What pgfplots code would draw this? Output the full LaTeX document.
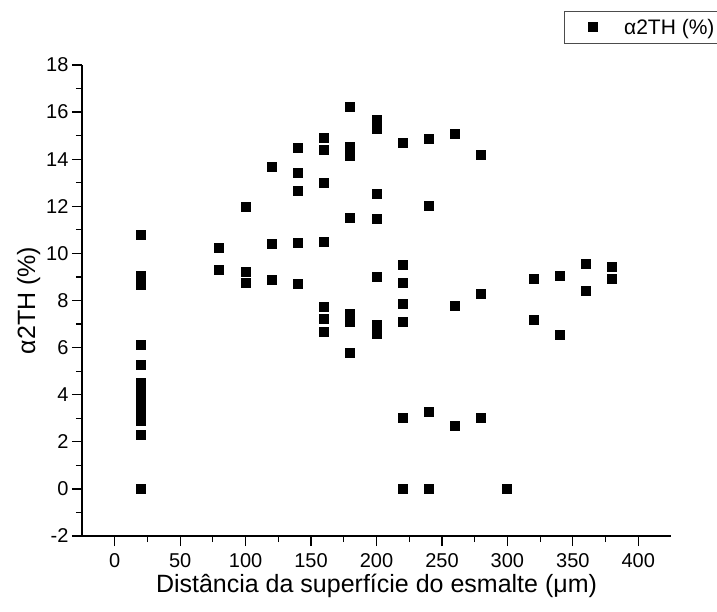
\documentclass[border=0pt]{standalone}
\usepackage{fontspec}
\setmainfont{Liberation Sans}
\usepackage{pgfplots}
\pgfplotsset{compat=1.18}

% alpha2TH (%) against distance from the enamel surface (um)
\pgfplotstableread{
x y
20 10.77
20 9.02
20 8.65
20 6.11
20 5.25
20 4.50
20 4.30
20 4.10
20 3.90
20 3.70
20 3.50
20 3.30
20 3.10
20 2.90
20 2.30
20 0.00
80 10.22
80 9.29
100 11.96
100 9.22
100 8.73
120 13.65
120 10.39
120 8.87
140 14.48
140 13.41
140 12.64
140 10.43
140 8.69
160 14.89
160 14.39
160 13.00
160 10.47
160 7.74
160 7.20
160 6.65
180 16.20
180 14.53
180 14.15
180 11.52
180 7.43
180 7.07
180 5.78
200 15.66
200 15.27
200 12.54
200 11.46
200 9.01
200 6.96
200 6.58
220 14.70
220 9.51
220 8.73
220 7.84
220 7.07
220 3.03
220 0.00
240 14.84
240 12.01
240 3.25
240 0.00
260 15.06
260 7.75
260 2.69
280 14.19
280 8.28
280 3.00
300 0.00
320 8.91
320 7.17
340 9.05
340 6.54
360 9.55
360 8.39
380 9.42
380 8.91
}\dataA

\begin{document}
\begin{tikzpicture}[x=1pt,y=1pt]
\useasboundingbox (-82,-75) rectangle (635,536);
\begin{axis}[
    at={(0,0)}, anchor=south west,
    scale only axis,
    width=589pt, height=471pt,
    xmin=-25, xmax=425,
    ymin=-2, ymax=18,
    axis x line*=bottom,
    axis y line*=left,
    axis line style={line width=1.3pt},
    xtick={0,50,...,400},
    ytick={-2,0,...,18},
    minor x tick num=1,
    minor y tick num=1,
    tick align=outside,
    major tick length=10pt,
    minor tick length=6pt,
    every tick/.style={line width=1.2pt, black},
    /pgf/number format/assume math mode=true,
    every tick label/.append style={font=\fontsize{20}{24}\selectfont},
    xticklabel style={yshift=-4pt},
    xlabel={Distância da superfície do esmalte (μm)},
    ylabel={α2TH (\%)},
    label style={font=\fontsize{25}{28}\selectfont},
    ylabel style={yshift=-1pt},
    legend style={at={(1.083,1.115)}, anchor=north east,
        draw=black!70, line width=0.8pt,
        font=\fontsize{21}{23}\selectfont},
]
\addplot[only marks, mark=square*, mark size=4.5pt,
    mark options={fill=black, draw=black, line width=1pt},
    legend image code/.code={
        \path[draw=none, fill=none] (0pt,-14pt) rectangle (55pt,14pt);
        \draw[mark repeat=2, mark phase=2]
            plot coordinates {(14pt,0pt) (26pt,0pt) (38pt,0pt)};}]
    table[x=x, y=y] {\dataA};
\legend{α2TH (\%)}
\end{axis}
\end{tikzpicture}
\end{document}
